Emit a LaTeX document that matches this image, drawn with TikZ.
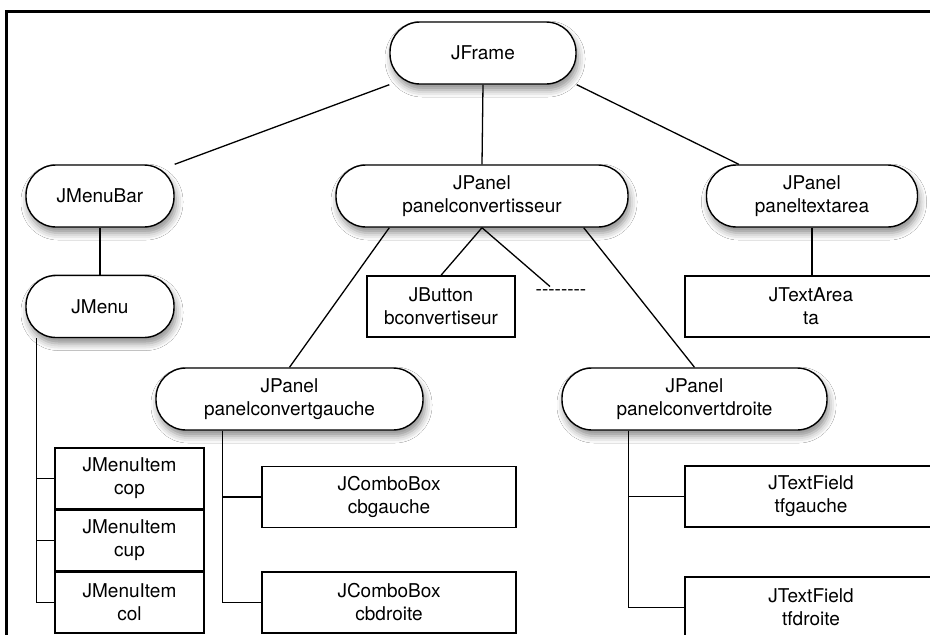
\documentclass[tikz,border=0pt]{standalone}
\usepackage{fontspec}
\setmainfont{TeX Gyre Heros}
\usetikzlibrary{calc,shadows.blur,backgrounds}
\newcommand{\hy}{\mbox{-}}
\begin{document}
\begin{tikzpicture}[x=1pt,y=-1pt,
  font=\fontsize{19}{23}\selectfont,
  pill/.style={draw, line width=1.4pt, fill=white, rounded corners=30pt,
    minimum height=62pt, inner sep=0pt, align=center,
    blur shadow={shadow xshift=2pt, shadow yshift=-6pt, shadow blur radius=7pt, shadow opacity=45}},
  leaf/.style={draw, line width=1.4pt, fill=white, minimum height=61pt,
    inner sep=0pt, align=center},
  conn/.style={line width=1.3pt}]
\useasboundingbox (0,0) rectangle (930,635);

% nodes
\node[pill, minimum width=186pt] (jframe) at (483,53) {JFrame};
\node[pill, minimum width=148pt] (jmenubar) at (100,196) {JMenuBar};
\node[pill, minimum width=148pt] (jmenu) at (100,306.5) {JMenu};
\node[pill, minimum width=292pt] (pconv) at (482,196) {JPanel\\panelconvertisseur};
\node[pill, minimum width=211pt] (ptext) at (812,196) {JPanel\\paneltextarea};
\node[leaf, minimum width=148pt] (jbutton) at (441,306.5) {JButton\\bconvertiseur};
\node (dots) at (561,293) {\hy\hy\hy\hy\hy\hy\hy\hy};
\node[leaf, minimum width=252pt] (jtextarea) at (811,306.5) {JTextArea\\ta};
\node[pill, minimum width=267pt] (pgauche) at (289.5,399) {JPanel\\panelconvertgauche};
\node[pill, minimum width=265pt] (pdroite) at (694.5,399) {JPanel\\panelconvertdroite};
\node[leaf, minimum width=149pt] (cop) at (129.5,478.5) {JMenuItem\\cop};
\node[leaf, minimum width=149pt] (cup) at (129.5,540.5) {JMenuItem\\cup};
\node[leaf, minimum width=149pt] (col) at (129.5,602.5) {JMenuItem\\col};
\node[leaf, minimum width=254pt] (cbg) at (389,497) {JComboBox\\cbgauche};
\node[leaf, minimum width=254pt] (cbd) at (389,602.5) {JComboBox\\cbdroite};
\node[leaf, minimum width=252pt] (tfg) at (811,496.5) {JTextField\\tfgauche};
\node[leaf, minimum width=252pt] (tfd) at (811,607.5) {JTextField\\tfdroite};

% connectors
\begin{scope}[on background layer]
\fill[white] (0,0) rectangle (930,635);
\draw[conn] (jframe.south west) -- (jmenubar.north east);
\draw[conn] (jframe.south) -- (pconv.north);
\draw[conn] (jframe.south east) -- ($(ptext.north west)+(33,0)$);
\draw[conn] (jmenubar) -- (jmenu);
\coordinate (mtop) at ($(jmenu.south west)+(11,0)$);
\draw[conn] (mtop) |- (col.west);
\draw[conn] (mtop |- cop.west) -- (cop.west);
\draw[conn] (mtop |- cup.west) -- (cup.west);
\draw[conn] ($(pconv.south west)+(54,0)$) -- (pgauche.north);
\draw[conn] (pconv.south) -- (jbutton.north);
\draw[conn] (pconv.south) -- ($(dots.north)+(-11,0)$);
\draw[conn] ($(pconv.south east)+(-45,0)$) -- (pdroite.north);
\draw[conn] (ptext.south) -- (ptext.south |- jtextarea.north);
\coordinate (gtop) at ($(pgauche.south west)+(67,0)$);
\draw[conn] (gtop) |- (cbd.west);
\draw[conn] (gtop |- cbg.west) -- (cbg.west);
\coordinate (dtop) at ($(pdroite.south west)+(67,0)$);
\draw[conn] (dtop) |- (tfd.west);
\draw[conn] (dtop |- tfg.west) -- (tfg.west);
\end{scope}
\draw[line width=3pt] (6.5,645) |- (940,11.5);
\end{tikzpicture}
\end{document}
